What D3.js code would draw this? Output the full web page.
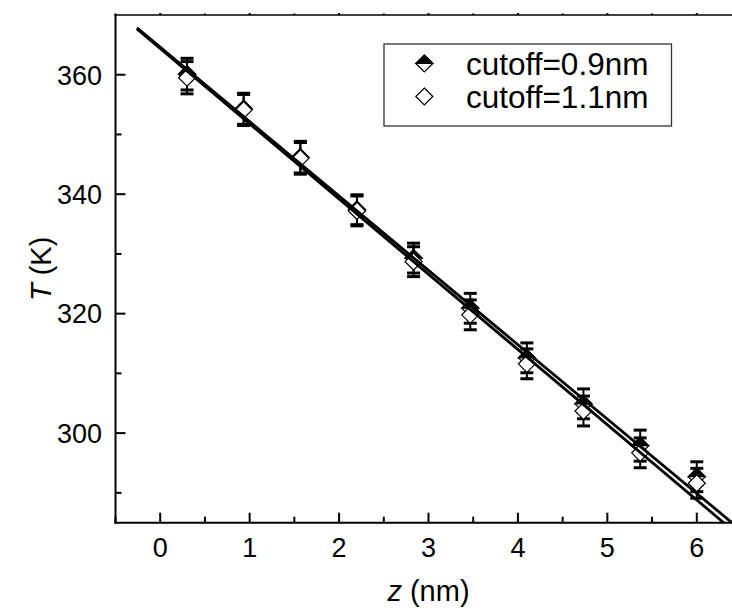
<!DOCTYPE html>
<html><head><meta charset="utf-8">
<script src="https://cdn.jsdelivr.net/npm/d3@7"></script>
<style>body{margin:0;background:#fff}svg{display:block}text{font-family:"Liberation Sans",Arial,sans-serif;fill:#000}</style>
</head><body>
<script>
// ---- data ----
const zValues = [0.3, 0.933, 1.567, 2.2, 2.833, 3.467, 4.1, 4.733, 5.367, 6.0];
const tCutoff09 = [360.1, 354.3, 346.2, 337.4, 329.3, 320.9, 312.6, 304.9, 297.9, 292.7];
const errCutoff09 = [2.65, 2.6, 2.65, 2.5, 2.5, 2.5, 2.5, 2.5, 2.6, 2.5];
const tCutoff11 = [359.5, 354.1, 346.0, 337.2, 328.7, 319.8, 311.6, 303.7, 296.7, 291.6];
const errCutoff11 = [2.7, 2.6, 2.65, 2.5, 2.5, 2.5, 2.5, 2.5, 2.5, 2.5];
const seriesNames = ["cutoff=0.9nm", "cutoff=1.1nm"];
const fitIntercept = [364.6, 364.4];
const fitSlope = [-12.45, -12.6];
const fitStartZ = -0.26;
const xTicks = [0, 1, 2, 3, 4, 5, 6];
const xMinorTicks = [-0.5, 0.5, 1.5, 2.5, 3.5, 4.5, 5.5, 6.5];
const yTicks = [300, 320, 340, 360];
const yMinorTicks = [290, 310, 330, 350];

const W = 732, H = 609;
const svg = d3.select("body").append("svg").attr("width", W).attr("height", H);
const x = d3.scaleLinear().domain([-0.5, 6.5]).range([115.5, 741.5]);
const y = d3.scaleLinear().domain([285, 370]).range([522.7, 15]);
const yMin = 285;

// error bars
const errGroup = svg.append("g");
function drawErr(vals, errs) {
  zValues.forEach((z, i) => {
    const cx = x(z), y1 = y(vals[i] + errs[i]), y2 = y(vals[i] - errs[i]);
    errGroup.append("line").attr("x1", cx).attr("x2", cx).attr("y1", y1).attr("y2", y2)
      .attr("stroke", "#000").attr("stroke-width", 2);
    [y1, y2].forEach(yy => errGroup.append("line").attr("x1", cx - 6.5).attr("x2", cx + 6.5)
      .attr("y1", yy).attr("y2", yy).attr("stroke", "#000").attr("stroke-width", 3));
  });
}
drawErr(tCutoff09, errCutoff09);
drawErr(tCutoff11, errCutoff11);

const r = 8.5;
function diamond(g, cx, cy, half) {
  g.append("path").attr("d", `M${cx},${cy - r}L${cx + r},${cy}L${cx},${cy + r}L${cx - r},${cy}Z`)
    .attr("fill", "#fff").attr("stroke", "#000").attr("stroke-width", 1.2);
  if (half) g.append("path").attr("d", `M${cx},${cy - r}L${cx + r},${cy}L${cx - r},${cy}Z`)
    .attr("fill", "#000").attr("stroke", "#000").attr("stroke-width", 1.2);
}
const mk = svg.append("g");
zValues.forEach((z, i) => diamond(mk, x(z), y(tCutoff09[i]), true));
zValues.forEach((z, i) => diamond(mk, x(z), y(tCutoff11[i]), false));

// fit lines
const lg = svg.append("g");
fitIntercept.forEach((b, k) => {
  const m = fitSlope[k];
  const zEnd = (yMin - b) / m;
  lg.append("line").attr("x1", x(fitStartZ)).attr("y1", y(b + m * fitStartZ))
    .attr("x2", x(zEnd)).attr("y2", y(yMin)).attr("stroke", "#000").attr("stroke-width", 2.8);
});

// axes
const ax = svg.append("g").attr("stroke", "#000").attr("stroke-width", 2);
ax.append("line").attr("x1", x(-0.5)).attr("x2", x(-0.5)).attr("y1", y(370) - 1).attr("y2", y(285) + 1);
ax.append("line").attr("x1", x(-0.5) - 1).attr("x2", W).attr("y1", y(285)).attr("y2", y(285));
ax.append("line").attr("x1", x(-0.5) - 1).attr("x2", W).attr("y1", y(370)).attr("y2", y(370)).attr("stroke-width", 1.5);
xTicks.forEach(t => {
  ax.append("line").attr("x1", x(t)).attr("x2", x(t)).attr("y1", y(285)).attr("y2", y(285) - 10);
  ax.append("line").attr("x1", x(t)).attr("x2", x(t)).attr("y1", y(370)).attr("y2", y(370) - 2);
});
xMinorTicks.forEach(t => {
  ax.append("line").attr("x1", x(t)).attr("x2", x(t)).attr("y1", y(285)).attr("y2", y(285) - 6);
  ax.append("line").attr("x1", x(t)).attr("x2", x(t)).attr("y1", y(370)).attr("y2", y(370) - 1.5);
});
yTicks.forEach(t => ax.append("line").attr("x1", x(-0.5)).attr("x2", x(-0.5) + 10).attr("y1", y(t)).attr("y2", y(t)));
yMinorTicks.forEach(t => ax.append("line").attr("x1", x(-0.5)).attr("x2", x(-0.5) + 6).attr("y1", y(t)).attr("y2", y(t)));

const fs = 27;
xTicks.forEach(t => svg.append("text").attr("x", x(t)).attr("y", 556.5).attr("text-anchor", "middle")
  .attr("font-size", fs).text(t));
yTicks.forEach(t => svg.append("text").attr("x", 102).attr("y", y(t) + 9.8).attr("text-anchor", "end")
  .attr("font-size", fs).text(t));

const fsTitle = 29;
const xt = svg.append("text").attr("x", 428.5).attr("y", 601).attr("text-anchor", "middle").attr("font-size", fsTitle);
xt.append("tspan").attr("font-style", "italic").text("z");
xt.append("tspan").text(" (nm)");
const yt = svg.append("text").attr("transform", `translate(51,${(y(370) + y(285)) / 2}) rotate(-90)`)
  .attr("text-anchor", "middle").attr("font-size", fsTitle);
yt.append("tspan").attr("font-style", "italic").text("T");
yt.append("tspan").text(" (K)");

// legend
const leg = svg.append("g");
leg.append("rect").attr("x", 384).attr("y", 44).attr("width", 287.5).attr("height", 82)
  .attr("fill", "#fff").attr("stroke", "#333").attr("stroke-width", 1.3);
seriesNames.forEach((name, k) => {
  const cy = 63.5 + k * 33;
  diamond(leg, 424.3, cy, k === 0);
  leg.append("text").attr("x", 466).attr("y", cy + 11).attr("font-size", 31.5).text(name);
});
</script>
</body></html>
